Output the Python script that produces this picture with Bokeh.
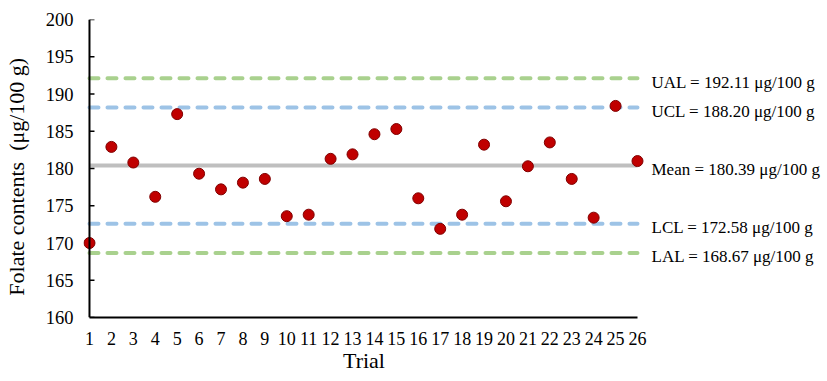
from bokeh.plotting import figure
from bokeh.models import Range1d, LinearAxis, FixedTicker, ColumnDataSource, Span
from bokeh.embed import file_html
from bokeh.resources import INLINE

# ---- data ----
trial = list(range(1, 27))
folate = [170.0, 182.9, 180.8, 176.2, 187.3, 179.3, 177.2, 178.1, 178.6, 173.6,
          173.8, 181.3, 181.9, 184.6, 185.3, 176.0, 171.9, 173.8, 183.2, 175.6,
          180.3, 183.5, 178.6, 173.4, 188.4, 181.0]
limit_names = ["UAL", "UCL", "Mean", "LCL", "LAL"]
limit_values = [192.11, 188.20, 180.39, 172.58, 168.67]
y_ticks = [160, 165, 170, 175, 180, 185, 190, 195, 200]

# ---- styles ----
limit_colors = ["#A9D18E", "#9DC3E6", "#BFBFBF", "#9DC3E6", "#A9D18E"]
limit_dashes = ["9 9", "9 9", "solid", "9 9", "9 9"]
FONT = "Liberation Serif"
Y0, Y1 = 160, 200
LABEL_SHIFT = 0.54  # labels sit a few pixels below their lines

p = figure(width=827, height=381, output_backend="svg", toolbar_location=None,
           x_range=Range1d(0.727, 26.32), y_range=Range1d(Y0, Y1),
           min_border_left=82, min_border_right=183, min_border_top=19,
           min_border_bottom=64)
p.extra_y_ranges = {"labels": Range1d(Y0 + LABEL_SHIFT, Y1 + LABEL_SHIFT)}
p.outline_line_color = None
p.xgrid.visible = False
p.ygrid.visible = False
p.background_fill_color = "white"
p.border_fill_color = "white"

# limit lines
for name, v, c, d in zip(limit_names, limit_values, limit_colors, limit_dashes):
    src = ColumnDataSource(dict(x0=[trial[0]], x1=[trial[-1]], y0=[v], y1=[v]))
    p.segment(x0="x0", x1="x1", y0="y0", y1="y1", source=src, line_color=c,
              line_width=4, line_dash=d, line_cap="round" if d != "solid" else "butt")

# left axis line at the first trial, with small inward ticks
p.add_layout(Span(location=trial[0], dimension="height", line_color="black",
                  line_width=2))
p.ray(x=[trial[0]] * len(y_ticks), y=y_ticks, length=5, length_units="screen",
      angle=0, line_color="black", line_width=1.5)

# points
p.scatter(trial, folate, size=11, fill_color="#C00000", line_color="#800000",
          line_width=1)

# bottom axis
xa = p.xaxis[0]
xa.ticker = FixedTicker(ticks=trial)
xa.bounds = (trial[0], trial[-1])
xa.axis_line_color = "black"
xa.axis_line_width = 2
xa.major_tick_in = 0
xa.major_tick_out = 0
xa.minor_tick_line_color = None
xa.major_label_standoff = 14
xa.major_label_text_font = FONT
xa.major_label_text_font_size = "18px"
xa.major_label_text_color = "black"
xa.axis_label = "Trial"
xa.axis_label_standoff = 0
xa.axis_label_text_font = FONT
xa.axis_label_text_font_size = "22px"
xa.axis_label_text_font_style = "normal"
xa.axis_label_text_color = "black"

# left axis (labels only; line drawn at trial 1)
ya = p.yaxis[0]
ya.ticker = FixedTicker(ticks=y_ticks)
ya.axis_line_color = None
ya.major_tick_in = 0
ya.major_tick_out = 0
ya.major_tick_line_color = None
ya.minor_tick_line_color = None
ya.major_label_standoff = 10
ya.major_label_text_font = FONT
ya.major_label_text_font_size = "18.5px"
ya.major_label_text_color = "black"
ya.axis_label = "Folate contents \u00a0(\u03bcg/100 g)\u00a0\u00a0\u00a0"
ya.axis_label_standoff = 14
ya.axis_label_text_font = FONT
ya.axis_label_text_font_size = "22px"
ya.axis_label_text_font_style = "normal"
ya.axis_label_text_color = "black"

# right axis with limit labels
ra = LinearAxis(ticker=FixedTicker(ticks=limit_values), y_range_name="labels")
ra.major_label_overrides = {v: f"{n} = {v:.2f} \u03bcg/100 g" for n, v in zip(limit_names, limit_values)}
ra.axis_line_color = None
ra.major_tick_line_color = None
ra.major_tick_in = 0
ra.major_tick_out = 0
ra.minor_tick_line_color = None
ra.major_label_standoff = 7
ra.major_label_text_font = FONT
ra.major_label_text_font_size = "17px"
ra.major_label_text_color = "black"
p.add_layout(ra, "right")

open("out.html", "w").write(file_html(p, INLINE))
